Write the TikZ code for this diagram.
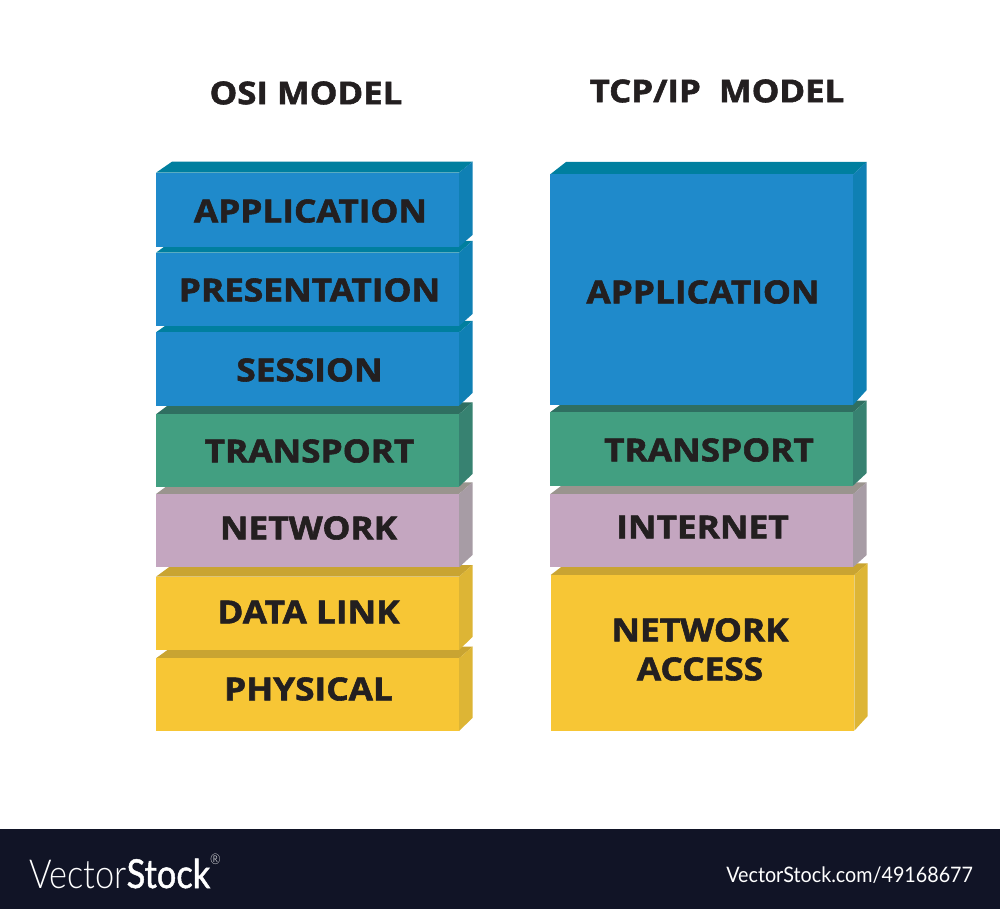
\documentclass[tikz,border=0pt]{standalone}
\usepackage{xcolor}
\usepackage{fontspec}
\setmainfont{Open Sans}[BoldFeatures={FakeBold=1.8,FakeStretch=1.11}]
\newfontfamily\footfont{Lato}[FakeStretch=0.925]
\newfontfamily\brandfont{Lato Light}[FakeStretch=0.86,BoldFont={Lato},BoldFeatures={FakeBold=1.2,FakeStretch=0.86}]
\definecolor{blueFront}{RGB}{31,138,203}
\definecolor{blueTop}{RGB}{0,127,159}
\definecolor{blueSide}{RGB}{15,128,180}
\definecolor{greenFront}{RGB}{66,159,129}
\definecolor{greenTop}{RGB}{47,111,97}
\definecolor{greenSide}{RGB}{55,130,113}
\definecolor{lilacFront}{RGB}{196,166,192}
\definecolor{lilacTop}{RGB}{154,148,142}
\definecolor{lilacSide}{RGB}{167,156,165}
\definecolor{yellowFront}{RGB}{247,198,53}
\definecolor{yellowTop}{RGB}{201,164,50}
\definecolor{yellowSide}{RGB}{221,181,53}
\definecolor{footBg}{RGB}{17,20,38}
\definecolor{labelInk}{RGB}{35,31,32}
\tikzset{
  layerlabel/.style={text=labelInk,font=\fontsize{23.8}{29.25}\selectfont\bfseries,inner sep=0pt,align=center},
  titlelabel/.style={layerlabel,font=\fontsize{23.5}{28}\selectfont\bfseries},
  footlabel/.style={text=white,inner sep=0pt,anchor=west}
}
\begin{document}
\begin{tikzpicture}[x=0.75pt,y=0.75pt,yscale=-1,xscale=1]
\useasboundingbox (0,0) rectangle (1000,909);
%Shape: Rectangle (footer)
\fill [footBg] (0,829) rectangle (1000,909);
%Shape: Box (osi physical)
\fill [yellowTop] (156,658.3) -- (172,646.7) -- (472.5,646.7) -- (459,658.3) -- cycle;
\fill [yellowSide] (459,658.3) -- (472.5,646.7) -- (472.5,718) -- (459,731) -- cycle;
\fill [yellowFront] (156,658.3) rectangle (459,731);
%Shape: Box (osi data link)
\fill [yellowTop] (156,576.7) -- (172,565) -- (472.5,565) -- (459,576.7) -- cycle;
\fill [yellowSide] (459,576.7) -- (472.5,565) -- (472.5,637) -- (459,650) -- cycle;
\fill [yellowFront] (156,576.7) rectangle (459,650);
%Shape: Box (osi network)
\fill [lilacTop] (156,494) -- (172,482.3) -- (472.5,482.3) -- (459,494) -- cycle;
\fill [lilacSide] (459,494) -- (472.5,482.3) -- (472.5,555) -- (459,567.3) -- cycle;
\fill [lilacFront] (156,494) rectangle (459,567.3);
%Shape: Box (osi transport)
\fill [greenTop] (156,414.3) -- (172,402.3) -- (472.5,402.3) -- (459,414.3) -- cycle;
\fill [greenSide] (459,414.3) -- (472.5,402.3) -- (472.5,474) -- (459,486.7) -- cycle;
\fill [greenFront] (156,414.3) rectangle (459,486.7);
%Shape: Box (osi session)
\fill [blueTop] (156,332.3) -- (172,321) -- (472.5,321) -- (459,332.3) -- cycle;
\fill [blueSide] (459,332.3) -- (472.5,321) -- (472.5,393) -- (459,405.7) -- cycle;
\fill [blueFront] (156,332.3) rectangle (459,405.7);
%Shape: Box (osi presentation)
\fill [blueTop] (156,252.7) -- (172,241) -- (472.5,241) -- (459,252.7) -- cycle;
\fill [blueSide] (459,252.7) -- (472.5,241) -- (472.5,314) -- (459,326) -- cycle;
\fill [blueFront] (156,252.7) rectangle (459,326);
%Shape: Box (osi application)
\fill [blueTop] (156,172.7) -- (172,161.7) -- (472.5,161.7) -- (459,172.7) -- cycle;
\fill [blueSide] (459,172.7) -- (472.5,161.7) -- (472.5,235) -- (459,246.7) -- cycle;
\fill [blueFront] (156,172.7) rectangle (459,246.7);
%Shape: Box (tcp network access)
\fill [yellowTop] (550.7,575) -- (566,563.3) -- (867.7,563.3) -- (854.3,575) -- cycle;
\fill [yellowSide] (854.3,575) -- (867.7,563.3) -- (867.7,716) -- (854.3,730.7) -- cycle;
\fill [yellowFront] (550.7,575) rectangle (854.3,730.7);
%Shape: Box (tcp internet)
\fill [lilacTop] (550,494.3) -- (566,482.3) -- (866.7,482.3) -- (853,494.3) -- cycle;
\fill [lilacSide] (853,494.3) -- (866.7,482.3) -- (866.7,555) -- (853,567.3) -- cycle;
\fill [lilacFront] (550,494.3) rectangle (853,567.3);
%Shape: Box (tcp transport)
\fill [greenTop] (550,412.3) -- (566,400.7) -- (866.7,400.7) -- (853,412.3) -- cycle;
\fill [greenSide] (853,412.3) -- (866.7,400.7) -- (866.7,473) -- (853,485.7) -- cycle;
\fill [greenFront] (550,412.3) rectangle (853,485.7);
%Shape: Box (tcp application)
\fill [blueTop] (550,174.5) -- (566,162) -- (866.7,162) -- (853,174.5) -- cycle;
\fill [blueSide] (853,174.5) -- (866.7,162) -- (866.7,390) -- (853,405) -- cycle;
\fill [blueFront] (550,174.5) rectangle (853,405);
% Text Node
\node [titlelabel] (osiTitle) at (306,93) {OSI MODEL};
\node [titlelabel] (tcpTitle) at (717,91) {TCP/IP\ \ MODEL};
% Text Node
\node [layerlabel] (osiApplication) at (310.5,211) {APPLICATION};
\node [layerlabel] (osiPresentation) at (309.5,290) {PRESENTATION};
\node [layerlabel] (osiSession) at (309.5,370) {SESSION};
\node [layerlabel] (osiTransport) at (309.5,451) {TRANSPORT};
\node [layerlabel] (osiNetwork) at (308.5,528) {NETWORK};
\node [layerlabel] (osiDataLink) at (308.5,612) {DATA LINK};
\node [layerlabel] (osiPhysical) at (308.5,689) {PHYSICAL};
% Text Node
\node [layerlabel] (tcpApplication) at (703,292) {APPLICATION};
\node [layerlabel] (tcpTransport) at (709,450) {TRANSPORT};
\node [layerlabel] (tcpInternet) at (702.5,527) {INTERNET};
\node [layerlabel] (tcpAccess) at (700,649.5) {NETWORK\\ACCESS};
% Text Node
\node [footlabel,font=\brandfont\fontsize{30}{32}\selectfont] (footBrand) at (29,871) {Vector\textbf{Stock}\raisebox{1.2ex}{\fontsize{11}{11}\selectfont\textregistered}};
\node [footlabel,font=\footfont\fontsize{16}{18}\selectfont] (footLink) at (726,875) {VectorStock.com/49168677};
\end{tikzpicture}
\end{document}
